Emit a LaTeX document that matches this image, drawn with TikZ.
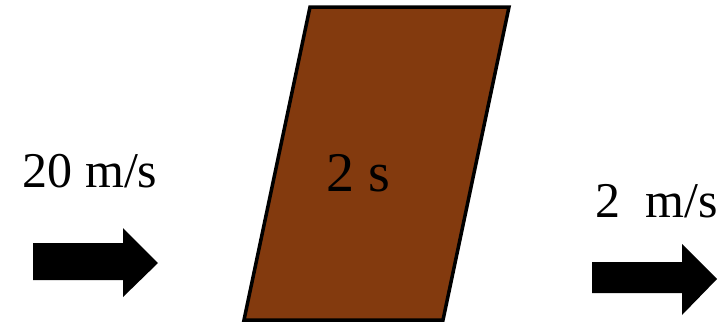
\documentclass[tikz,border=0pt]{standalone}
\usepackage{fontspec}
\setmainfont{Liberation Serif}
\definecolor{brickbrown}{RGB}{131,58,14}
\tikzset{
  blockarrow/.style={fill=black, draw=none},
  lbl/.style={anchor=base, inner sep=0pt, font=\fontsize{50}{54}\selectfont},
}
\begin{document}
\begin{tikzpicture}[x=1pt,y=-1pt]
\useasboundingbox (0,0) rectangle (726,324);
% block
\draw[fill=brickbrown, line width=3.5pt, line join=miter]
  (310,7) -- (509,7) -- (443,320) -- (244,320) -- cycle;
\node[lbl, font=\fontsize{56}{60}\selectfont] (t) at (358,191) {2 s};
% left arrow
\fill[blockarrow] (33,243) -- (123,243) -- (123,228) -- (158,263) -- (123,297) -- (123,280) -- (33,280) -- cycle;
\node[lbl] (v1) at (90,187) {20 m/s};
% right arrow
\fill[blockarrow] (592,262) -- (682,262) -- (682,244) -- (717,279) -- (682,315) -- (682,293) -- (592,293) -- cycle;
\node[lbl] (v2) at (657,217) {2\ \ m/s};
\end{tikzpicture}
\end{document}
